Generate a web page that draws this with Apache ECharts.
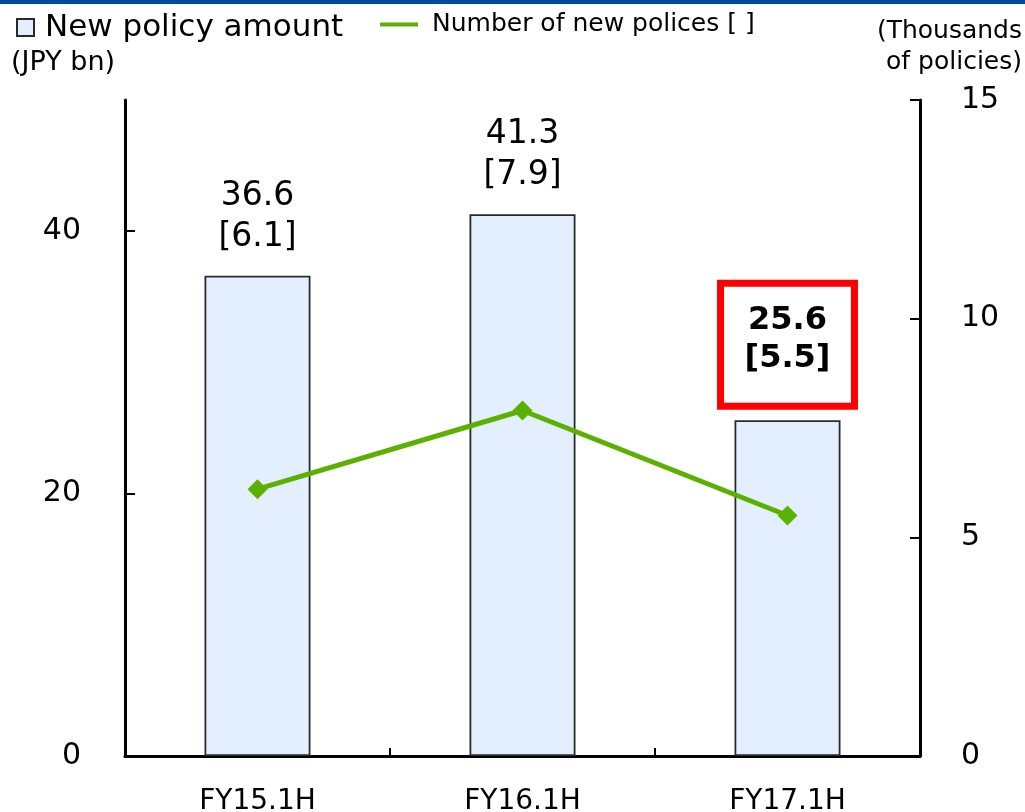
<!DOCTYPE html>
<html>
<head>
<meta charset="utf-8">
<script src="https://cdn.jsdelivr.net/npm/echarts@6/dist/echarts.min.js"></script>
<style>
  html, body { margin: 0; padding: 0; background: #fff; }
  #chart { width: 1025px; height: 812px; }
</style>
</head>
<body>
<div id="chart"></div>
<script>
// Half-year new policy results
const categories = ['FY15.1H', 'FY16.1H', 'FY17.1H'];
const policyAmount = [36.6, 41.3, 25.6];      // JPY bn (left axis)
const policyCount = [6.1, 7.9, 5.5];          // thousands of policies (right axis)
const leftTicks = [0, 20, 40];
const rightTicks = [0, 5, 10, 15];
const highlightIndex = 2;

const FONT = 'DejaVu Sans';

const amountData = policyAmount.map((v, i) => {
  const item = { value: v };
  if (i === highlightIndex) {
    item.label = {
      fontWeight: 'bold',
      fontSize: 32,
      lineHeight: 38,
      borderColor: '#ff0000',
      borderWidth: 7,
      padding: [19, 24, 28, 24],
      distance: 14
    };
  }
  return item;
});

const chart = echarts.init(document.getElementById('chart'));
chart.setOption({
  animation: false,
  textStyle: { fontFamily: FONT, color: '#000' },
  grid: { left: 125, right: 105, top: 100, bottom: 56, containLabel: false, outerBoundsMode: 'none' },
  graphic: [
    { type: 'rect', left: 0, top: 0, shape: { width: 1025, height: 4 }, style: { fill: '#004a9c' } },
    { type: 'text', left: 11, top: 49, style: { text: '(JPY bn)', font: '27px "DejaVu Sans"', fill: '#000' } },
    { type: 'text', x: 1022, y: 16, style: { text: '(Thousands\nof policies)', font: '25px "DejaVu Sans"', fill: '#000', align: 'right', lineHeight: 31 } }
  ],
  legend: [
    {
      left: 16, top: 12, padding: 0,
      itemWidth: 17, itemHeight: 17,
      selectedMode: false,
      textStyle: { fontFamily: FONT, fontSize: 31, color: '#000', padding: [0, 0, 0, 6] },
      data: [{ name: 'New policy amount', icon: 'rect' }]
    },
    {
      left: 380, top: 12, padding: 0,
      itemWidth: 38, itemHeight: 4,
      selectedMode: false,
      textStyle: { fontFamily: FONT, fontSize: 25, color: '#000', padding: [0, 0, 0, 9] },
      data: [{ name: 'Number of new polices [ ]', icon: 'rect' }]
    }
  ],
  xAxis: {
    type: 'category',
    data: categories,
    boundaryGap: true,
    axisLine: { lineStyle: { color: '#000', width: 3 } },
    axisTick: { show: true, inside: true, length: 8, lineStyle: { color: '#000', width: 2 } },
    axisLabel: { fontFamily: FONT, fontSize: 28, color: '#000', margin: 32 }
  },
  yAxis: [
    {
      type: 'value', min: 0, max: 50, interval: 10,
      splitLine: { show: false },
      axisLine: { show: true, lineStyle: { color: '#000', width: 3 } },
      axisTick: { show: true, inside: true, length: 10, customValues: leftTicks, lineStyle: { color: '#000', width: 2 } },
      axisLabel: { fontFamily: FONT, fontSize: 30, color: '#000', margin: 44, customValues: leftTicks }
    },
    {
      type: 'value', min: 0, max: 15, interval: 5,
      position: 'right',
      splitLine: { show: false },
      axisLine: { show: true, lineStyle: { color: '#000', width: 3 } },
      axisTick: { show: true, inside: true, length: 10, customValues: rightTicks, lineStyle: { color: '#000', width: 2 } },
      axisLabel: { fontFamily: FONT, fontSize: 30, color: '#000', margin: 41, customValues: rightTicks }
    }
  ],
  series: [
    {
      name: 'New policy amount',
      type: 'bar',
      yAxisIndex: 0,
      barWidth: '40%',
      data: amountData,
      itemStyle: { color: '#e3efff', borderColor: '#2a2a2a', borderWidth: 1.8 },
      label: {
        show: true,
        position: 'top',
        distance: 18,
        fontFamily: FONT,
        fontSize: 33,
        lineHeight: 41,
        color: '#000',
        align: 'center',
        formatter: p => policyAmount[p.dataIndex].toFixed(1) + '\n[' + policyCount[p.dataIndex].toFixed(1) + ']'
      },
      z: 2
    },
    {
      name: 'Number of new polices [ ]',
      type: 'line',
      yAxisIndex: 1,
      data: policyCount,
      symbol: 'diamond',
      symbolSize: 20,
      lineStyle: { color: '#5cb100', width: 5 },
      itemStyle: { color: '#5cb100' },
      z: 3
    }
  ]
});
</script>
</body>
</html>
